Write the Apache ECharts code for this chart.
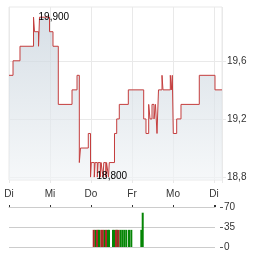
<!DOCTYPE html>
<html>
<head>
<meta charset="utf-8">
<script src="https://cdn.jsdelivr.net/npm/echarts@6/dist/echarts.min.js"></script>
<style>
  html, body { margin: 0; padding: 0; background: #fff; }
  #chart { width: 264px; height: 255px; }
</style>
</head>
<body>
<div id="chart"></div>
<script>
// x axis is in trading days (0 = first Di), weekend skipped
const dayLabels = ['Di', 'Mi', 'Do', 'Fr', 'Mo', 'Di']
const priceTicks = [18.8, 19.2, 19.6]
const volumeTicks = [0, 35, 70]

const priceTimes = [
  0.000, 0.098, 0.268, 0.598, 0.622, 0.720, 0.744, 0.988, 1.073, 1.202,
  1.537, 1.659, 1.715, 1.744, 1.934, 1.988, 2.007,
  2.080, 2.100, 2.154, 2.173, 2.227, 2.246, 2.293, 2.312, 2.361, 2.380, 2.427, 2.446,
  2.573, 2.627, 2.690, 2.910, 3.285, 3.341, 3.407, 3.439, 3.488, 3.537, 3.573,
  3.610, 3.646, 3.732, 3.756, 3.934, 3.959, 3.983, 4.007, 4.090, 4.195,
  4.641, 5.024, 5.195
]
const prices = [
  19.5, 19.6, 19.7, 19.9, 19.8, 19.7, 19.9, 19.8, 19.7, 19.3,
  19.4, 19.5, 18.9, 19.0, 19.1, 18.8, 18.9,
  18.8, 18.9, 18.8, 18.9, 18.8, 18.9, 18.8, 18.9, 18.8, 18.9, 18.8, 18.9,
  19.1, 19.2, 19.3, 19.4, 19.2, 19.1, 19.3, 19.2, 19.3, 19.2, 19.3,
  19.1, 19.4, 19.5, 19.4, 19.5, 19.4, 19.5, 19.1, 19.2, 19.3,
  19.5, 19.4, 19.4
]

// volume bars, split by direction
const volUpTimes = [2.106, 2.179, 2.203, 2.324, 2.407, 2.439, 2.537, 2.573, 2.634,
  2.715, 2.763, 2.812, 2.861, 2.927, 2.983, 3.227, 3.261]
const volUp = [30, 30, 30, 30, 30, 30, 30, 30, 30,
  30, 30, 30, 30, 30, 30, 30, 60]
const volDownTimes = [2.066, 2.146, 2.252, 2.284, 2.366, 2.610, 2.666]
const volDown = [30, 30, 30, 30, 30, 30, 30]

const fmt = (v, d) => v.toFixed(d).replace('.', ',')
const pair = (ts, vs) => ts.map((t, i) => [t, vs[i]])

const chart = echarts.init(document.getElementById('chart'))

const gridColor = '#e9e9e9'
const labelStyle = { color: '#333', fontSize: 10, fontFamily: 'Liberation Sans, Arial, sans-serif' }

chart.setOption({
  animation: false,
  grid: [
    { left: 9, right: 42, top: 7, height: 173, show: true, borderColor: gridColor, borderWidth: 1 },
    { left: 9, right: 49, top: 207, height: 40 }
  ],
  xAxis: [
    {
      gridIndex: 0,
      type: 'value',
      min: 0,
      max: 5.195,
      interval: 1,
      axisLine: { show: false, onZero: false },
      axisTick: { show: true, length: 3, lineStyle: { color: gridColor } },
      splitLine: { show: true, lineStyle: { color: gridColor } },
      axisLabel: Object.assign({
        margin: 9,
        formatter: v => (Number.isInteger(v) ? dayLabels[v] || '' : '')
      }, labelStyle)
    },
    {
      gridIndex: 1,
      type: 'value',
      position: 'top',
      min: 0,
      max: 5.024,
      interval: 1,
      axisLine: { show: true, onZero: false, lineStyle: { color: '#ccc' } },
      axisTick: { show: true, length: 2, lineStyle: { color: '#333' } },
      splitLine: { show: false },
      axisLabel: { show: false }
    }
  ],
  yAxis: [
    {
      gridIndex: 0,
      type: 'value',
      position: 'right',
      min: 18.78,
      max: 19.97,
      axisLine: { show: false, onZero: false },
      axisTick: { show: true, length: 4, customValues: priceTicks, lineStyle: { color: gridColor } },
      splitLine: { show: true, lineStyle: { color: gridColor } },
      axisLabel: Object.assign({
        margin: 5,
        customValues: priceTicks,
        formatter: v => fmt(v, 1)
      }, labelStyle)
    },
    {
      gridIndex: 1,
      type: 'value',
      position: 'right',
      offset: 5,
      min: volumeTicks[0],
      max: volumeTicks[2],
      interval: volumeTicks[1],
      axisLine: { show: false, onZero: false },
      axisTick: { show: true, length: 3, lineStyle: { color: '#555' } },
      splitLine: { show: true, lineStyle: { color: '#ccc' } },
      axisLabel: Object.assign({ margin: 4 }, labelStyle)
    }
  ],
  series: [
    {
      type: 'line',
      xAxisIndex: 0,
      yAxisIndex: 0,
      step: 'end',
      symbol: 'none',
      data: pair(priceTimes, prices),
      lineStyle: { color: '#c43d3d', width: 1 },
      areaStyle: {
        color: new echarts.graphic.LinearGradient(0, 0, 0, 1, [
          { offset: 0, color: '#c6d1db' },
          { offset: 1, color: '#f1f4f6' }
        ])
      },
      markPoint: {
        symbol: 'circle',
        symbolSize: 0,
        label: Object.assign({
          show: true,
          position: 'right',
          formatter: p => fmt(p.value, 3)
        }, labelStyle, { color: '#000' }),
        data: [
          { type: 'max', label: { distance: 5 } },
          { type: 'min', label: { distance: 6, offset: [0, -1] } }
        ]
      }
    },
    {
      type: 'bar',
      xAxisIndex: 1,
      yAxisIndex: 1,
      barWidth: 2,
      barGap: '-100%',
      itemStyle: { color: '#058505' },
      data: pair(volUpTimes, volUp)
    },
    {
      type: 'bar',
      xAxisIndex: 1,
      yAxisIndex: 1,
      barWidth: 2,
      barGap: '-100%',
      itemStyle: { color: '#b02828' },
      data: pair(volDownTimes, volDown)
    }
  ]
})
</script>
</body>
</html>
